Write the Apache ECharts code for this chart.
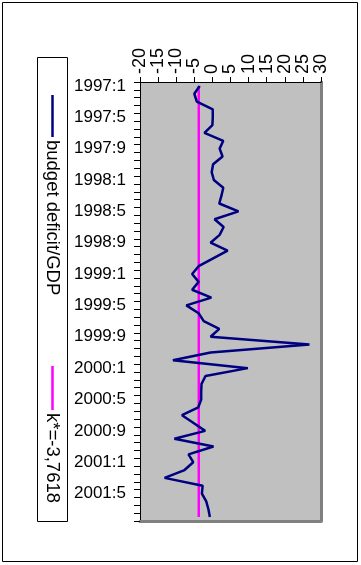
<!DOCTYPE html>
<html>
<head>
<meta charset="utf-8">
<style>
html,body{margin:0;padding:0;background:#fff;}
#chart{width:361px;height:565px;}
</style>
<script src="https://cdn.jsdelivr.net/npm/echarts@6/dist/echarts.min.js"></script>
</head>
<body>
<div id="chart"></div>
<script>
const categories = [
  "1997:1","1997:2","1997:3","1997:4","1997:5","1997:6","1997:7","1997:8","1997:9","1997:10","1997:11","1997:12",
  "1998:1","1998:2","1998:3","1998:4","1998:5","1998:6","1998:7","1998:8","1998:9","1998:10","1998:11","1998:12",
  "1999:1","1999:2","1999:3","1999:4","1999:5","1999:6","1999:7","1999:8","1999:9","1999:10","1999:11","1999:12",
  "2000:1","2000:2","2000:3","2000:4","2000:5","2000:6","2000:7","2000:8","2000:9","2000:10","2000:11","2000:12",
  "2001:1","2001:2","2001:3","2001:4","2001:5","2001:6","2001:7","2001:8"
];
const budgetDeficit = [
  -3.5, -5.0, -4.3, 0.1, 0.1, 0.0, -2.2, 3.0, 2.0, 2.8, 0.2, -0.2,
  0.4, 3.0, 2.5, 1.9, 7.2, 0.6, 3.1, 2.0, -0.5, 4.2, 0.2, -3.8,
  -5.6, -3.8, -5.6, -0.3, -7.2, -3.8, -2.4, 1.9, -0.5, 26.8, -0.5, -10.9,
  9.8, -1.9, -3.0, -3.1, -3.1, -3.9, -8.4, -5.2, -2.0, -10.5, 0.3, -6.6,
  -5.3, -7.7, -13.2, -2.7, -2.9, -1.7, -1.1, -0.7
];
const K_STAR = -3.7618;
const kStar = categories.map(() => K_STAR);
const valueMin = -20, valueMax = 30, valueStep = 5;
const seriesNames = ["budget deficit/GDP", "k*=-3,7618"];

const FONT = '"Liberation Sans", Arial, Helvetica, sans-serif';
const chart = echarts.init(document.getElementById('chart'), null, {renderer:'canvas'});
chart.setOption({
  animation: false,
  backgroundColor: '#fff',
  textStyle: {fontFamily: FONT},
  grid: {left: 140, right: 40, top: 82, bottom: 44, show: true, backgroundColor: '#c0c0c0', borderWidth: 0},
  xAxis: [
    {type: 'value', position: 'top', min: valueMin, max: valueMax, interval: valueStep,
     axisLine: {show: true, lineStyle: {color: '#000', width: 1}},
     axisTick: {show: true, inside: false, length: 5, lineStyle: {color: '#000'}},
     axisLabel: {rotate: -90, fontSize: 18, color: '#000', margin: 8, fontFamily: FONT},
     splitLine: {show: false}},
    {type: 'value', position: 'bottom', min: valueMin, max: valueMax, interval: valueStep,
     axisLine: {show: true, lineStyle: {color: '#808080', width: 3}},
     axisTick: {show: false}, axisLabel: {show: false}, splitLine: {show: false}}
  ],
  yAxis: [
    {type: 'category', data: categories, inverse: true, position: 'left', boundaryGap: true,
     axisLine: {show: true, onZero: false, lineStyle: {color: '#000', width: 1}},
     axisTick: {show: true, interval: 0, length: 6, lineStyle: {color: '#000'}},
     axisLabel: {interval: 3, fontSize: 17, color: '#000', margin: 14, fontFamily: FONT},
     splitLine: {show: false}},
    {type: 'category', data: categories, inverse: true, position: 'right',
     axisLine: {show: true, onZero: false, lineStyle: {color: '#808080', width: 3}},
     axisTick: {show: false}, axisLabel: {show: false}, splitLine: {show: false}}
  ],
  series: [
    {name: seriesNames[0], type: 'line', xAxisIndex: 0, yAxisIndex: 0, data: budgetDeficit,
     showSymbol: false, lineStyle: {color: '#000080', width: 2.5}, itemStyle: {color: '#000080'}, z: 3},
    {name: seriesNames[1], type: 'line', xAxisIndex: 0, yAxisIndex: 0, data: kStar,
     showSymbol: false, lineStyle: {color: '#ff00ff', width: 2.5}, itemStyle: {color: '#ff00ff'}, z: 2}
  ],
  graphic: [
    {type: 'rect', shape: {x: 2.5, y: 2.5, width: 355, height: 559}, style: {fill: 'none', stroke: '#000', lineWidth: 1}, silent: true},
    {type: 'rect', shape: {x: 37.5, y: 57.5, width: 30, height: 464}, style: {fill: '#fff', stroke: '#000', lineWidth: 1}, silent: true},
    {type: 'line', shape: {x1: 52.5, y1: 95, x2: 52.5, y2: 137}, style: {stroke: '#000080', lineWidth: 2.5}, silent: true},
    {type: 'text', x: 52, y: 140, rotation: -Math.PI/2,
     style: {text: seriesNames[0], fontSize: 18.5, fontFamily: FONT, fill: '#000', textAlign: 'left', textVerticalAlign: 'middle'}, silent: true},
    {type: 'line', shape: {x1: 52.5, y1: 366, x2: 52.5, y2: 410}, style: {stroke: '#ff00ff', lineWidth: 2.5}, silent: true},
    {type: 'text', x: 52, y: 413, rotation: -Math.PI/2,
     style: {text: seriesNames[1], fontSize: 18.5, fontFamily: FONT, fill: '#000', textAlign: 'left', textVerticalAlign: 'middle'}, silent: true}
  ]
});
</script>
</body>
</html>
